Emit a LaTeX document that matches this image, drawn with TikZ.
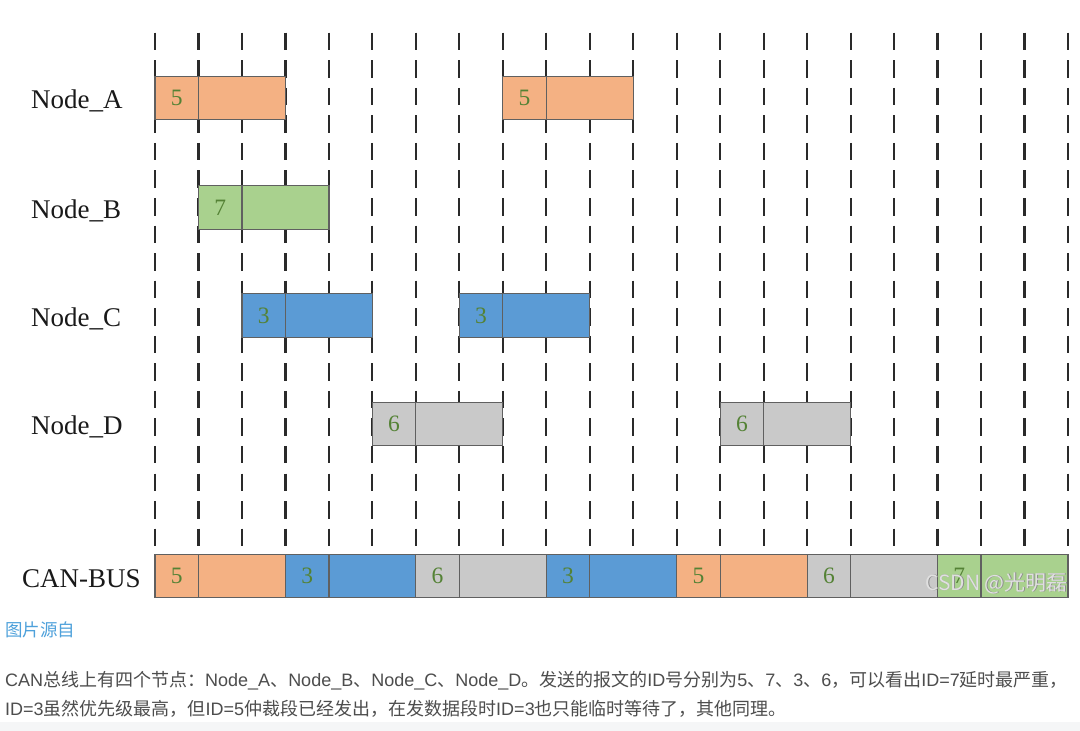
\documentclass[tikz,border=0pt]{standalone}
\usepackage{fontspec}
\setmainfont{Liberation Serif}
\newfontfamily\cjkfont{Noto Sans CJK SC}
\newfontfamily\lsans{Liberation Sans}
\newcommand\zh[1]{{\cjkfont #1}}
\definecolor{cOrange}{HTML}{F4B183}
\definecolor{cGreen}{HTML}{A9D18E}
\definecolor{cBlue}{HTML}{5B9BD5}
\definecolor{cGray}{HTML}{C9C9C9}
\definecolor{idGreen}{HTML}{548235}
\definecolor{edgec}{HTML}{606060}
\definecolor{dashc}{HTML}{2A2A2A}
\definecolor{txt}{HTML}{4D4D4D}
\definecolor{linkc}{HTML}{4EA1DB}
\definecolor{stripc}{HTML}{F5F6F7}
\newcommand\msg[5]{% name, y, slot, id, colour
  \node[cell, fill=#5] (#1i) at ({155+43.476*(#3+0.5)}, #2) {#4};
  \node[cell, fill=#5, minimum width=86.952pt, anchor=west] (#1d) at (#1i.east) {};
}
\begin{document}
\begin{tikzpicture}[x=1pt,y=-1pt,
  gridline/.style={draw=dashc, line width=2.2pt, dash pattern=on 17.5pt off 10.05pt},
  cell/.style={draw=edgec, line width=1.2pt, minimum width=43.476pt, minimum height=43.5pt,
    inner sep=0pt, outer sep=0pt, text=idGreen, font=\fontsize{23.5}{23.5}\selectfont},
  rowlabel/.style={anchor=base west, inner sep=0pt, font=\fontsize{27}{27}\selectfont, text=black!90},
  para/.style={anchor=base west, inner sep=0pt, font=\lsans\fontsize{18}{18}\selectfont, text=txt},
  ]
\useasboundingbox (0,0) rectangle (1080,731);
\fill[white] (0,0) rectangle (1080,731);
\fill[stripc] (0,722) rectangle (1080,731);
% time grid
\foreach \k in {0,...,21} {
  \draw[gridline] ({155+43.476*\k}, 32.7) -- ({155+43.476*\k}, 546.2);
}
% row labels
\node[rowlabel] (la) at (31, 108.5) {Node\_A};
\node[rowlabel] (lb) at (31, 218) {Node\_B};
\node[rowlabel] (lc) at (31, 326) {Node\_C};
\node[rowlabel] (ld) at (31, 434.5) {Node\_D};
\node[rowlabel] (lbus) at (22, 587) {CAN-BUS};
% node messages
\msg{a1}{98}{0}{5}{cOrange}
\msg{a2}{98}{8}{5}{cOrange}
\msg{b1}{207.5}{1}{7}{cGreen}
\msg{c1}{315.5}{2}{3}{cBlue}
\msg{c2}{315.5}{7}{3}{cBlue}
\msg{d1}{424}{5}{6}{cGray}
\msg{d2}{424}{13}{6}{cGray}
% bus
\msg{s1}{576}{0}{5}{cOrange}
\msg{s2}{576}{3}{3}{cBlue}
\msg{s3}{576}{6}{6}{cGray}
\msg{s4}{576}{9}{3}{cBlue}
\msg{s5}{576}{12}{5}{cOrange}
\msg{s6}{576}{15}{6}{cGray}
\msg{s7}{576}{18}{7}{cGreen}
% watermark
\node[anchor=east, inner sep=0pt, font=\cjkfont\fontsize{21}{21}\selectfont, text=black!45] (wms) at (1068.8, 583.8) {CSDN @光明磊};
\node[anchor=east, inner sep=0pt, font=\cjkfont\fontsize{21}{21}\selectfont, text=white!88!black] (wm) at (1068, 583) {CSDN @光明磊};
% caption text
\node[anchor=base west, inner sep=0pt, font=\cjkfont\fontsize{17.5}{17.5}\selectfont, text=linkc] (src) at (5, 636.5) {图片源自};
\node[para] (p1) at (5, 686) {CAN\zh{总线上有四个节点：}Node\_A\zh{、}Node\_B\zh{、}Node\_C\zh{、}Node\_D\zh{。发送的报文的}ID\zh{号分别为}5\zh{、}7\zh{、}3\zh{、}6\zh{，可以看出}ID=7\zh{延时最严重，}};
\node[para] (p2) at (5, 715) {ID=3\zh{虽然优先级最高，但}ID=5\zh{仲裁段已经发出，在发数据段时}ID=3\zh{也只能临时等待了，其他同理。}};
\end{tikzpicture}
\end{document}
